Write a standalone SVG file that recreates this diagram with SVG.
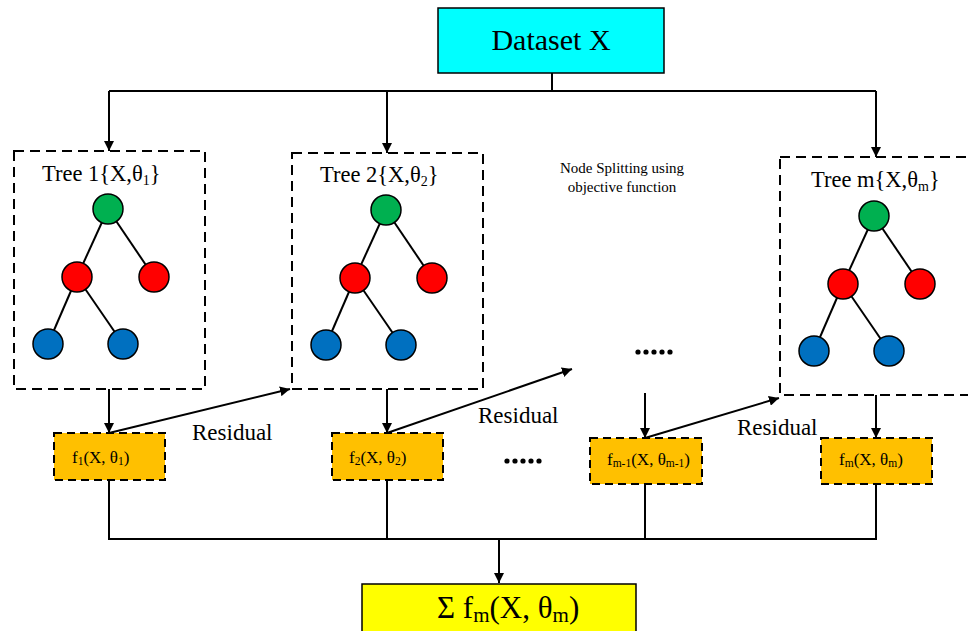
<svg xmlns="http://www.w3.org/2000/svg" width="968" height="631" viewBox="0 0 968 631">
  <style>
    .txt { font-family: "Liberation Serif", "Times New Roman", serif; fill: #000; }
    .frame { fill: none; stroke: #000; stroke-width: 2; stroke-dasharray: 10 6; }
    .fbox { fill: #FFC000; stroke: #000; stroke-width: 2; stroke-dasharray: 8 5; }
    .edge { stroke: #000; stroke-width: 2; }
    .root { fill: #00B050; stroke: #000; stroke-width: 1.5; }
    .split { fill: #FF0000; stroke: #000; stroke-width: 1.5; }
    .leaf { fill: #0070C0; stroke: #000; stroke-width: 1.5; }
    .wire { fill: none; stroke: #000; stroke-width: 2; }
    .arrow { fill: none; stroke: #000; stroke-width: 2; marker-end: url(#head); }
  </style>
  <defs>
    <marker id="head" viewBox="0 0 10 10" refX="10" refY="5" markerWidth="5" markerHeight="5" markerUnits="strokeWidth" orient="auto">
      <path d="M0,0 L10,5 L0,10 Z" fill="#000"/>
    </marker>
    <!-- one small tree: root, two splits, two leaves -->
    <g id="tree">
      <line class="edge" x1="0" y1="0" x2="-31" y2="68"/>
      <line class="edge" x1="0" y1="0" x2="46" y2="68"/>
      <line class="edge" x1="-31" y1="68" x2="-60" y2="135"/>
      <line class="edge" x1="-31" y1="68" x2="15" y2="135"/>
      <circle class="root" cx="0" cy="0" r="15"/>
      <circle class="split" cx="-31" cy="68" r="15"/>
      <circle class="split" cx="46" cy="68" r="15"/>
      <circle class="leaf" cx="-60" cy="135" r="15"/>
      <circle class="leaf" cx="15" cy="135" r="15"/>
    </g>
  </defs>

  <rect width="968" height="631" fill="#fff"/>

  <!-- connectors -->
  <g id="connectors">
    <polyline class="wire" points="552,73 552,91"/>
    <polyline class="wire" points="109,91 876,91"/>
    <line class="arrow" x1="109" y1="91" x2="109" y2="151"/>
    <line class="arrow" x1="387" y1="91" x2="387" y2="153"/>
    <line class="arrow" x1="876" y1="91" x2="876" y2="157"/>

    <line class="arrow" x1="109" y1="389" x2="109" y2="433"/>
    <line class="arrow" x1="387" y1="389" x2="387" y2="433"/>
    <line class="arrow" x1="645" y1="393" x2="645" y2="438"/>
    <line class="arrow" x1="876" y1="395" x2="876" y2="438"/>

    <line class="arrow" x1="109" y1="433" x2="290" y2="389"/>
    <line class="arrow" x1="387" y1="433" x2="572" y2="369"/>
    <line class="arrow" x1="645" y1="438" x2="779" y2="398"/>

    <polyline class="wire" points="109,480 109,539 876,539 876,484"/>
    <line class="wire" x1="387" y1="480" x2="387" y2="539"/>
    <line class="wire" x1="645" y1="484" x2="645" y2="539"/>
    <line class="arrow" x1="499" y1="539" x2="499" y2="583"/>
  </g>

  <!-- input -->
  <g id="dataset">
    <rect x="438" y="8" width="226" height="65" fill="#00FFFF" stroke="#000" stroke-width="1.5"/>
    <text class="txt" x="551" y="50" font-size="30" text-anchor="middle">Dataset X</text>
  </g>

  <!-- trees -->
  <g id="tree1">
    <rect class="frame" x="14" y="151" width="191" height="238"/>
    <text class="txt" x="42" y="181" font-size="22.5">Tree 1{X,θ<tspan font-size="14" dy="4">1</tspan><tspan dy="-4">}</tspan></text>
    <use href="#tree" x="108" y="209"/>
  </g>
  <g id="tree2">
    <rect class="frame" x="292" y="153" width="191" height="236"/>
    <text class="txt" x="320" y="182" font-size="22.5">Tree 2{X,θ<tspan font-size="14" dy="4">2</tspan><tspan dy="-4">}</tspan></text>
    <use href="#tree" x="386" y="210"/>
  </g>
  <g id="treem">
    <rect class="frame" x="780" y="157" width="200" height="238"/>
    <text class="txt" x="811" y="187" font-size="22.5">Tree m{X,θ<tspan font-size="14" dy="4">m</tspan><tspan dy="-4">}</tspan></text>
    <use href="#tree" x="874" y="216"/>
  </g>

  <!-- middle annotations -->
  <g id="note">
    <text class="txt" x="622" y="173" font-size="15" text-anchor="middle">Node Splitting using</text>
    <text class="txt" x="622" y="192" font-size="15" text-anchor="middle">objective function</text>
  </g>
  <g id="dots-top">
    <circle cx="638" cy="352" r="2.6"/><circle cx="646" cy="352" r="2.6"/><circle cx="654" cy="352" r="2.6"/><circle cx="662" cy="352" r="2.6"/><circle cx="670" cy="352" r="2.6"/>
  </g>
  <g id="dots-bottom">
    <circle cx="507" cy="461" r="2.6"/><circle cx="515" cy="461" r="2.6"/><circle cx="523" cy="461" r="2.6"/><circle cx="531" cy="461" r="2.6"/><circle cx="539" cy="461" r="2.6"/>
  </g>

  <!-- residual labels -->
  <text class="txt" x="192" y="440" font-size="23">Residual</text>
  <text class="txt" x="478" y="423" font-size="23">Residual</text>
  <text class="txt" x="737" y="435" font-size="23">Residual</text>

  <!-- fitted functions -->
  <g id="f1">
    <rect class="fbox" x="54" y="433" width="111" height="47"/>
    <text class="txt" x="72" y="463" font-size="17">f<tspan font-size="11.5" dy="2">1</tspan><tspan dy="-2">(X, θ</tspan><tspan font-size="11.5" dy="2">1</tspan><tspan dy="-2">)</tspan></text>
  </g>
  <g id="f2">
    <rect class="fbox" x="332" y="433" width="111" height="47"/>
    <text class="txt" x="349" y="463" font-size="17">f<tspan font-size="11.5" dy="2">2</tspan><tspan dy="-2">(X, θ</tspan><tspan font-size="11.5" dy="2">2</tspan><tspan dy="-2">)</tspan></text>
  </g>
  <g id="fm1">
    <rect class="fbox" x="590" y="438" width="112" height="46"/>
    <text class="txt" x="607" y="465" font-size="17">f<tspan font-size="11.5" dy="2">m-1</tspan><tspan dy="-2">(X, θ</tspan><tspan font-size="11.5" dy="2">m-1</tspan><tspan dy="-2">)</tspan></text>
  </g>
  <g id="fm">
    <rect class="fbox" x="821" y="438" width="111" height="46"/>
    <text class="txt" x="839" y="465" font-size="17">f<tspan font-size="11.5" dy="2">m</tspan><tspan dy="-2">(X, θ</tspan><tspan font-size="11.5" dy="2">m</tspan><tspan dy="-2">)</tspan></text>
  </g>

  <!-- ensemble output -->
  <g id="sum">
    <rect x="362" y="584" width="274" height="60" fill="#FFFF00" stroke="#000" stroke-width="1.5"/>
    <text class="txt" x="437" y="618" font-size="31">Σ f<tspan font-size="21" dy="4">m</tspan><tspan dy="-4">(X, θ</tspan><tspan font-size="21" dy="4">m</tspan><tspan dy="-4">)</tspan></text>
  </g>
</svg>
